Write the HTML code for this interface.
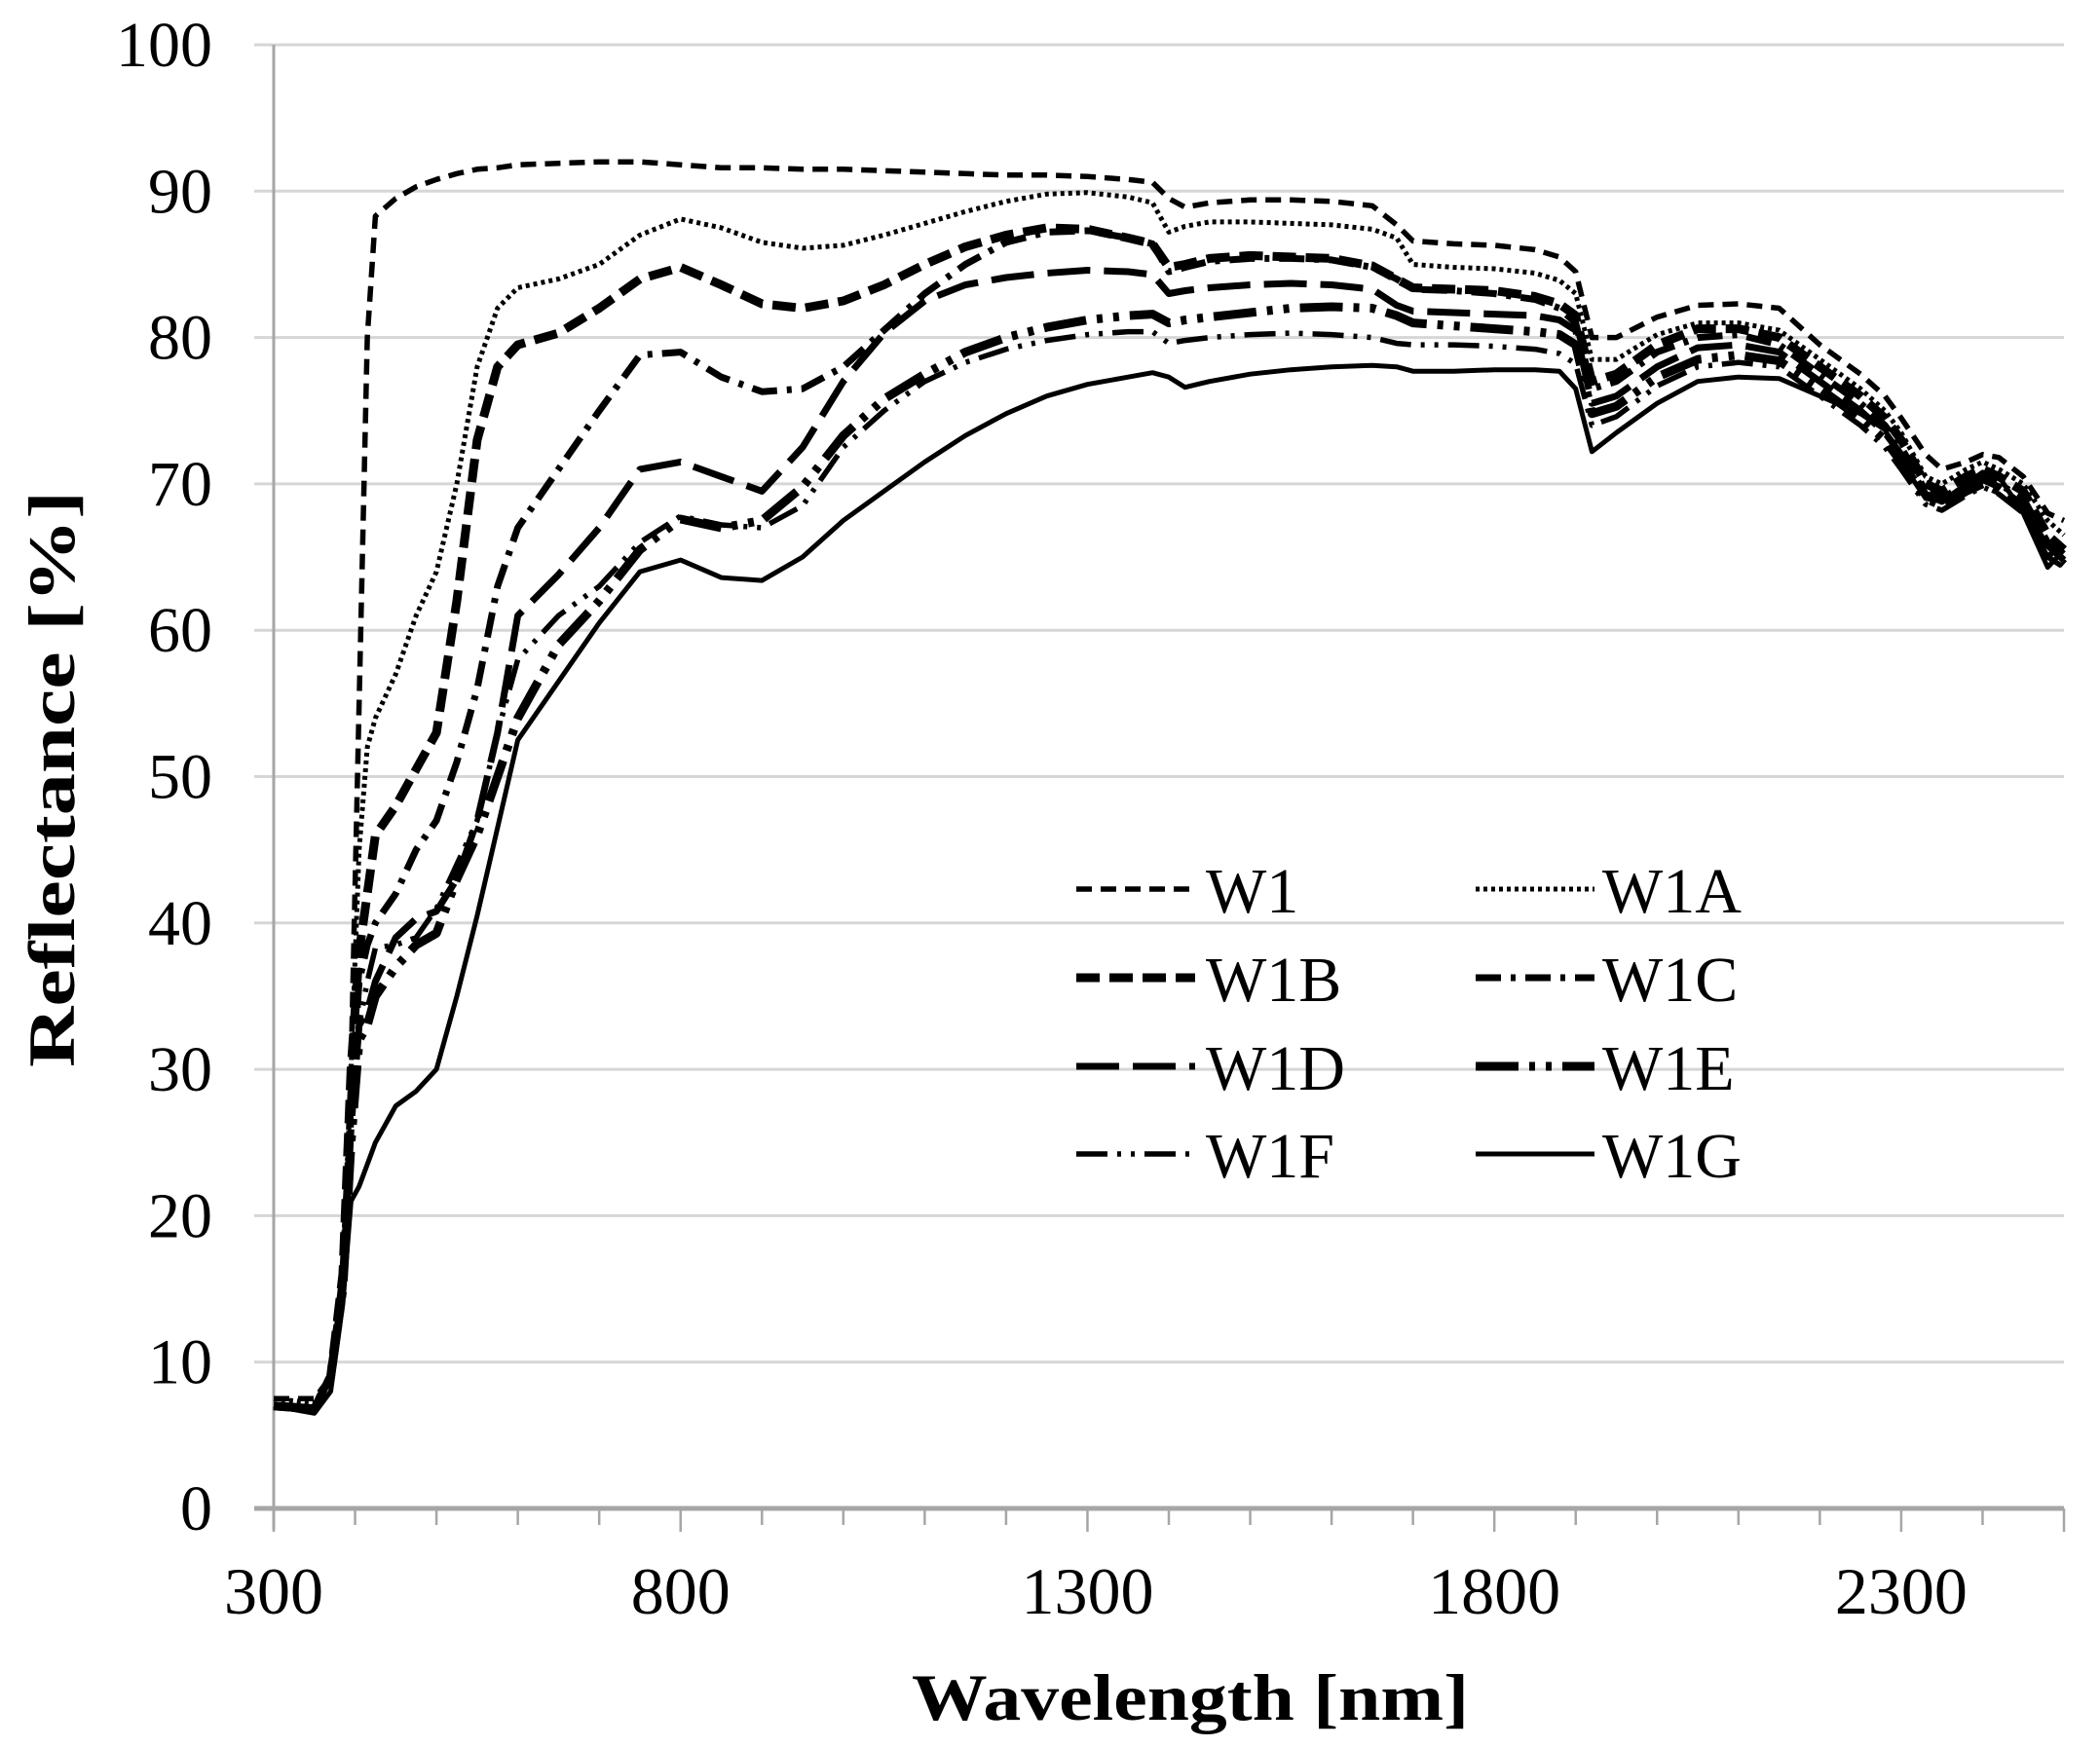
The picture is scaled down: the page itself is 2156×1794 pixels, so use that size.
<!DOCTYPE html>
<html><head><meta charset="utf-8"><style>
html,body{margin:0;padding:0;background:#fff;}
svg{display:block;font-family:"Liberation Serif",serif;}
</style></head><body>
<svg id="chart" width="2156" height="1794" viewBox="0 0 2156 1794" xmlns="http://www.w3.org/2000/svg">
<g id="grid"></g>
<g id="axes"></g>
<g id="series"></g>
<g id="legend"></g>
<text x="1222" y="1766" text-anchor="middle" font-size="68" font-weight="bold" textLength="572" lengthAdjust="spacingAndGlyphs">Wavelength  [nm]</text>
<text transform="translate(76,800) rotate(-90)" text-anchor="middle" font-size="68" font-weight="bold" textLength="592" lengthAdjust="spacingAndGlyphs">Reflectance  [%]</text>
</svg>
<script>
const wavelengths = [300,350,370,385,395,405,415,425,450,475,500,525,550,575,600,650,700,750,800,850,900,950,1000,1050,1100,1150,1200,1250,1300,1350,1380,1400,1420,1450,1500,1550,1600,1650,1680,1700,1750,1800,1850,1880,1900,1920,1950,2000,2050,2100,2150,2200,2250,2280,2300,2330,2350,2380,2400,2420,2450,2480,2500];
const seriesNames = ["W1","W1A","W1B","W1C","W1D","W1E","W1F","W1G"];
const w1  = [7.5,7.5,9,16,30,55,80,88.3,89.5,90.3,90.8,91.2,91.5,91.6,91.8,91.9,92,92,91.8,91.6,91.6,91.5,91.5,91.4,91.3,91.2,91.1,91.1,91,90.8,90.6,89.5,88.9,89.2,89.4,89.4,89.3,89,87.7,86.6,86.4,86.3,86,85.5,84.5,80,80,81.4,82.2,82.3,82,79.5,77.5,76,74.5,72,71,71.5,72,71.8,70.5,68,67.5];
const w1a = [7.5,7.2,9,16,30,45,52,54,57,61,64,70,78,82,83.4,84,85,87,88.1,87.5,86.5,86.1,86.3,87,87.8,88.6,89.3,89.8,89.9,89.6,89.2,87.2,87.6,87.9,87.9,87.8,87.7,87.4,86.8,85,84.8,84.7,84.4,83.9,83,78.5,78.5,80.2,81,81,80.5,78.5,76.5,75,73.5,70.5,70,71,71.5,71,70,67.5,66.5];
const w1b = [7,6.8,9,16,30,38,42,46,48,50.5,53,62,73,78,79.5,80.3,82,84,84.8,83.6,82.3,82,82.5,83.6,85,86.2,87,87.5,87.4,86.8,86.4,84.8,85,85.4,85.6,85.5,85.4,84.9,84,83.4,83.3,83.2,82.8,82.3,81.5,77,77.5,79.5,80.6,80.6,80,78,76,74.5,73,70,69.5,70.5,71,70.5,69.5,66.5,65.5];
const w1c = [7,6.8,9,16,28,36,38.5,40,42,45,47,51,56,63,67,71,75,78.8,79,77.3,76.3,76.5,78,80.5,83,85,86.5,87.2,87.3,86.8,86.4,84.5,84.8,85.2,85.4,85.4,85.3,84.8,84,83.3,83.2,83,82.6,82,81,76.5,77,79,80,80.2,79.5,77.5,75.5,74,72.5,69.5,69,70,70.5,70,69,66,65];
const w1d = [7,6.8,9,15,26,33,34,36,39,40.3,40.8,43,47,53,61,63.8,67,71,71.5,70.5,69.5,72.5,77,80.3,82.5,83.6,84.1,84.4,84.6,84.5,84.3,83,83.2,83.4,83.6,83.7,83.6,83.3,82.2,81.8,81.7,81.6,81.5,81.2,80.5,75.5,76,78,79.3,79.5,79,77,75,73.5,72,69.3,68.8,69.8,70.3,69.8,68.5,65.8,64.8];
const w1e = [7,6.8,9,15,25,32,33,35,37,38.5,39.3,43,46,50,54,59,62,65.5,67.6,67,67.5,69.8,73.3,75.8,77.5,79,80,80.7,81.2,81.5,81.6,81,81.2,81.4,81.7,82,82.1,82,81.5,81,80.8,80.6,80.4,80.2,79.5,74.8,75.3,77.3,78.5,78.8,78.4,76.5,74.5,73,71.5,69,68.5,69.5,70,69.5,68.3,65.5,64.5];
const w1f = [7,6.8,9,15,26,33,36,38.3,38.5,39,41,44,47,53,58,61,63,66,67.8,67.2,67,68.5,72.5,75,77,78.3,79.2,79.8,80.2,80.4,80.4,79.6,79.8,80,80.2,80.3,80.2,80,79.6,79.5,79.5,79.4,79.2,78.9,78.2,74,74.6,76.7,78,78.3,78,76,74,72.5,71,68.6,68.2,69.2,69.8,69.3,68,65,64.3];
const w1g = [7,6.5,8,14,21,22,23.5,25,27.5,28.5,30,35,40.5,46.5,52.5,56.5,60.5,64,64.8,63.6,63.4,65,67.5,69.5,71.5,73.3,74.8,76,76.8,77.3,77.6,77.3,76.6,77,77.5,77.8,78,78.1,78,77.7,77.7,77.8,77.8,77.7,76.5,72.2,73.5,75.5,77,77.3,77.2,76,74.8,73.7,71.5,69,68.8,70,70.8,70.5,68,64.3,65.5];
const xTickLabels = [300,800,1300,1800,2300];
const yTickLabels = [0,10,20,30,40,50,60,70,80,90,100];

const NS = "http://www.w3.org/2000/svg";
const X0 = 281, X1 = 2119, Y0 = 1549, Y1 = 46;
const xMin = 300, xMax = 2500, yMin = 0, yMax = 100;
function xs(v){ return X0 + (v - xMin) / (xMax - xMin) * (X1 - X0); }
function ys(v){ return Y0 - (v - yMin) / (yMax - yMin) * (Y0 - Y1); }
function mk(tag, attrs, parent){ const e = document.createElementNS(NS, tag); for (const k in attrs) e.setAttribute(k, attrs[k]); parent.appendChild(e); return e; }

const grid = document.getElementById('grid');
const axes = document.getElementById('axes');
yTickLabels.forEach(v => {
  const l = mk('line', {x1: X0 - 20, x2: X1, y1: ys(v), y2: ys(v), stroke: v === 0 ? '#a6a6a6' : '#d6d6d6', 'stroke-width': v === 0 ? 5 : 3}, grid);
  
  
  const t = mk('text', {x: 218, y: ys(v) + 22, 'text-anchor': 'end', 'font-size': 66}, axes);
  t.textContent = v;
  
  
});
const yAxis = mk('line', {x1: X0, x2: X0, y1: Y1, y2: Y0 + 22, stroke: '#a6a6a6', 'stroke-width': 3}, axes);


for (let v = xMin; v <= xMax; v += 100) {
  const major = (v - 300) % 500 === 0 || v === xMax;
  const tk = mk('line', {x1: xs(v), x2: xs(v), y1: Y0, y2: Y0 + (major ? 24 : 17), stroke: '#a6a6a6', 'stroke-width': 2.5}, axes);
  
  
}
xTickLabels.forEach(v => {
  const t = mk('text', {x: xs(v), y: 1657, 'text-anchor': 'middle', 'font-size': 68}, axes);
  t.textContent = v;
  
  
});

const styles = [
  {dash: '16 9', w: 5.5},
  {dash: '4 4', w: 5},
  {dash: '24 10', w: 9},
  {dash: '26 10 5 10', w: 7},
  {dash: '44 14', w: 7},
  {dash: '44 11 6 11 6 11', w: 9},
  {dash: '32 10 4 10 4 10', w: 5.5},
  {dash: 'none', w: 5}
];
const allSeries = [w1, w1a, w1b, w1c, w1d, w1e, w1f, w1g];
const seriesG = document.getElementById('series');
allSeries.forEach((vals, i) => {
  const d = vals.map((v, j) => (j ? 'L' : 'M') + xs(wavelengths[j]).toFixed(1) + ' ' + ys(v).toFixed(1)).join(' ');
  const p = mk('path', {d: d, fill: 'none', stroke: '#000', 'stroke-width': styles[i].w, 'stroke-dasharray': styles[i].dash, 'stroke-linejoin': 'round'}, seriesG);
  
  
});

const legend = document.getElementById('legend');
const legX = [1105, 1515], legY = [913, 1004, 1095, 1185];
seriesNames.forEach((n, i) => {
  const col = i % 2, row = Math.floor(i / 2);
  const lx = legX[col], ly = legY[row];
  const ln = mk('line', {x1: lx, x2: lx + 122, y1: ly, y2: ly, stroke: '#000', 'stroke-width': styles[i].w, 'stroke-dasharray': styles[i].dash}, legend);
  
  
  const t = mk('text', {x: lx + (col ? 130 : 133), y: ly + 24, 'font-size': 66}, legend);
  t.textContent = n;
  
  
});
</script>
</body></html>
